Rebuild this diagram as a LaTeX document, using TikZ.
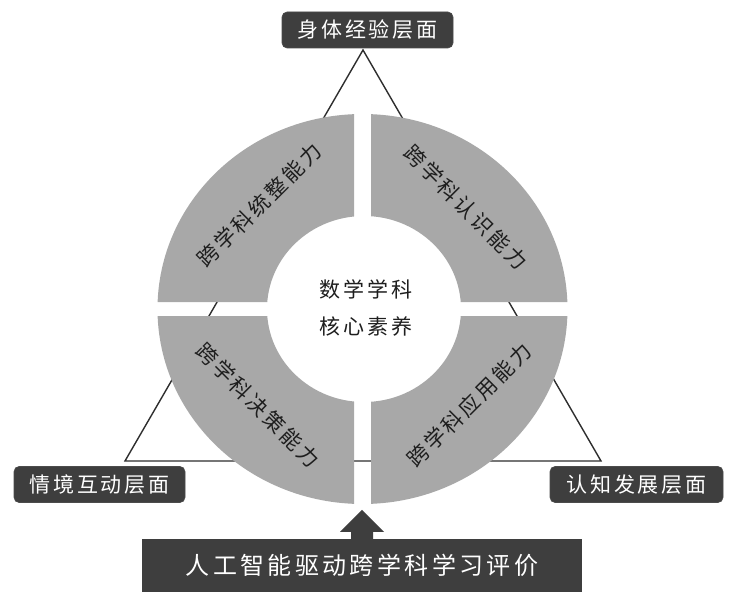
\documentclass[tikz,border=0pt]{standalone}
\usepackage{fontspec}
\usetikzlibrary{calc}
\newfontfamily\cjk{Noto Sans CJK SC}
\newfontfamily\cjkls{Noto Sans CJK SC}[LetterSpace=14]
\definecolor{ringgray}{HTML}{A8A8A8}
\definecolor{labdark}{HTML}{3E3E3E}
\definecolor{linegray}{HTML}{2E2E2E}
\definecolor{txtdark}{HTML}{1E1E1E}
\begin{document}
\begin{tikzpicture}[x=1pt,y=-1pt,
  tri/.style={draw=linegray, line width=1.4pt, line join=miter},
  ringpart/.style={fill=ringgray},
  lab/.style={fill=labdark, draw=gray!60!black, line width=0.6pt, rounded corners=5pt,
    text=white, font=\cjkls\fontsize{21}{24}\selectfont, inner sep=0pt,
    minimum height=36pt},
  ringtxt/.style={text=txtdark, font=\cjkls\fontsize{21}{24}\selectfont, inner sep=0pt},
  centertxt/.style={text=txtdark, font=\cjkls\fontsize{21}{37}\selectfont, align=center, inner sep=0pt},
  evbox/.style={fill=labdark, text=white, font=\cjkls\fontsize{24}{28}\selectfont,
    minimum width=440pt, minimum height=53pt, inner sep=0pt}
]
\useasboundingbox (0,0) rectangle (732,594);
\fill[white] (0,0) rectangle (732,594);
% triangle
\coordinate (A) at (363,50);
\coordinate (L) at (125,461);
\coordinate (R) at (601,461);
\draw[tri] (A) -- (L) -- (R) -- cycle;
% ring
\begin{scope}
  \clip (0,0) rectangle (354,302) (371,0) rectangle (732,302)
        (0,316) rectangle (354,594) (371,316) rectangle (732,594);
  \fill[ringpart, even odd rule] (362.5,309) ellipse [x radius=205pt, y radius=195pt]
        (364,309) ellipse [x radius=97pt, y radius=93pt];
\end{scope}
% ring texts
\node[ringtxt, rotate=45]  (tl) at (259,205) {跨学科统整能力};
\node[ringtxt, rotate=-45] (tr) at (466,207) {跨学科认识能力};
\node[ringtxt, rotate=-45] (bl) at (258,405) {跨学科决策能力};
\node[ringtxt, rotate=45]  (br) at (469,405) {跨学科应用能力};
% center
\node[centertxt] (core) at (366,308) {数学学科\\核心素养};
% labels
\node[lab, minimum width=171pt] (body) at (367.5,30) {身体经验层面};
\node[lab, minimum width=171pt] (situ) at (99.5,484.5) {情境互动层面};
\node[lab, minimum width=173pt] (cogn) at (636.5,484.5) {认知发展层面};
% bottom box and arrow
\node[evbox] (ev) at (362,565.5) {人工智能驱动跨学科学习评价};
\fill[labdark] ($(ev.north)+(-11,0.5)$) -- ($(ev.north)+(-11,-7)$) -- ($(ev.north)+(-22,-7)$)
  -- ($(ev.north)+(0,-29)$) -- ($(ev.north)+(22,-7)$) -- ($(ev.north)+(11,-7)$)
  -- ($(ev.north)+(11,0.5)$) -- cycle;
\end{tikzpicture}
\end{document}
